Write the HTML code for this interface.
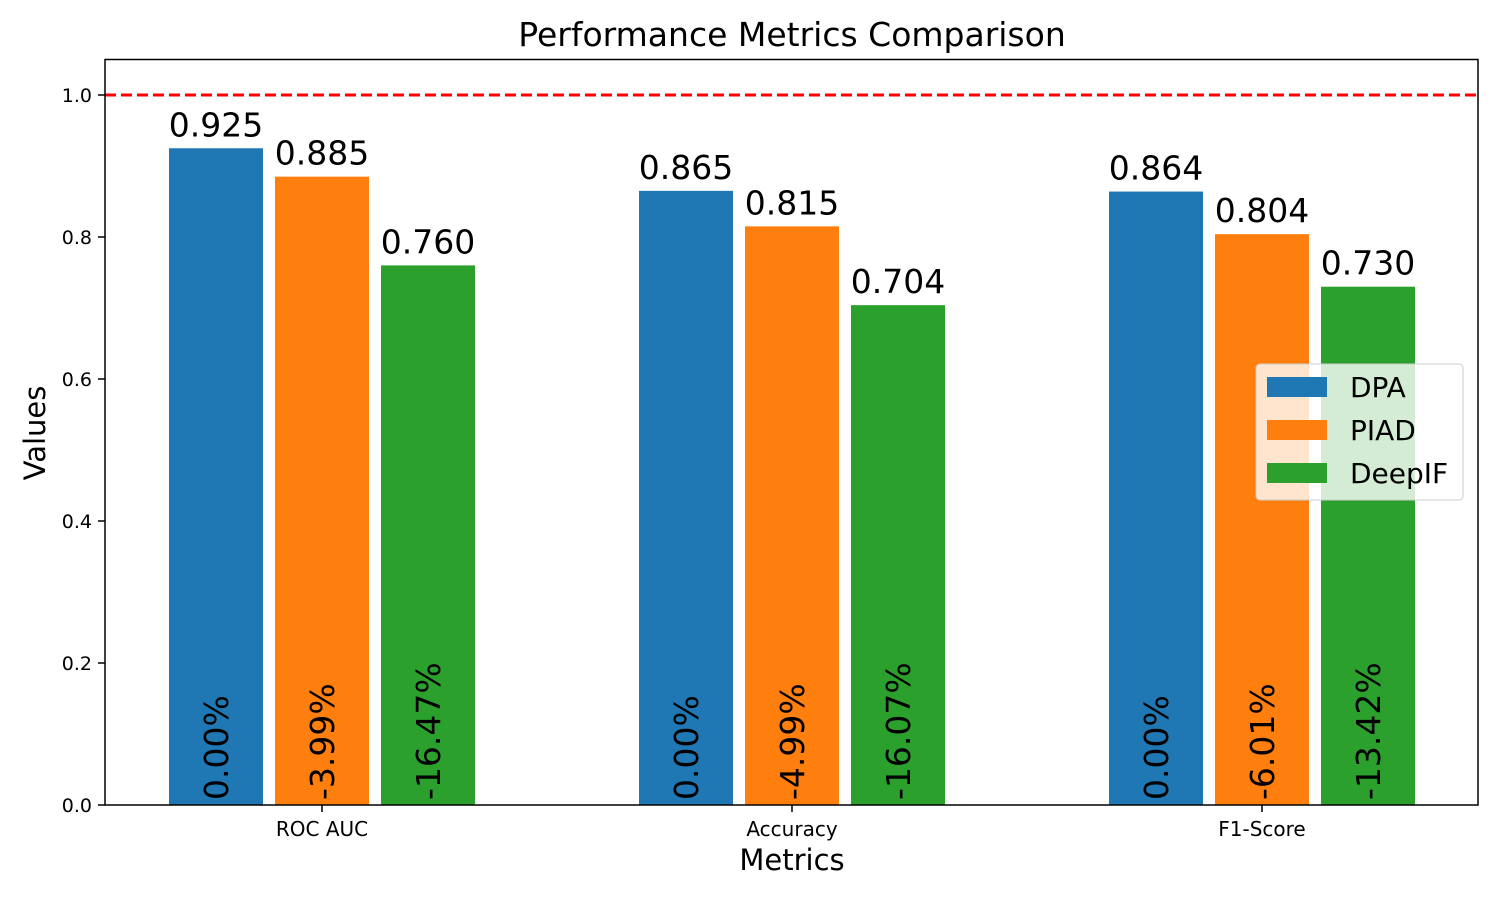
<!DOCTYPE html>
<html><head><meta charset="utf-8"><style>
body{margin:0;background:#fff;}
svg{display:block;font-family:"DejaVu Sans","Liberation Sans",sans-serif;}
</style></head><body>
<svg id="chart" width="1500" height="900">
<text x="792" y="46" font-size="33" text-anchor="middle">Performance Metrics Comparison</text>
<text x="792" y="870" font-size="29" text-anchor="middle">Metrics</text>
<text transform="translate(45,433) rotate(-90)" font-size="29" text-anchor="middle">Values</text>
<g id="plot"></g>
<rect x="105" y="59.5" width="1373" height="745.5" fill="none" stroke="#000" stroke-width="1.5"/>
<g>
<rect x="1256" y="364" width="207" height="136" rx="4" fill="#fff" fill-opacity="0.8" stroke="#ccc"/>
<rect x="1267" y="377" width="60" height="20" fill="#1f77b4"/>
<text x="1350" y="397" font-size="28">DPA</text>
<rect x="1267" y="420" width="60" height="20" fill="#ff7f0e"/>
<text x="1350" y="440" font-size="28">PIAD</text>
<rect x="1267" y="463" width="60" height="20" fill="#2ca02c"/>
<text x="1350" y="483" font-size="28">DeepIF</text>
</g>
</svg>
<script>
const categories=["ROC AUC","Accuracy","F1-Score"];
const seriesNames=["DPA","PIAD","DeepIF"];
const dpa=[0.925,0.865,0.864];
const piad=[0.885,0.815,0.804];
const deepif=[0.760,0.704,0.730];
const pctLabels=[["0.00%","-3.99%","-16.47%"],["0.00%","-4.99%","-16.07%"],["0.00%","-6.01%","-13.42%"]];
const yTicks=[0,0.2,0.4,0.6,0.8,1.0];
const refLine=1.0;
const colors=["#1f77b4","#ff7f0e","#2ca02c"];
const NS="http://www.w3.org/2000/svg";
const g=document.getElementById('plot');
const y=v=>805-v*710;
const xc=i=>322+i*470;
function mk(t,a,txt){const e=document.createElementNS(NS,t);for(const k in a)e.setAttribute(k,a[k]);if(txt!==undefined)e.textContent=txt;g.appendChild(e);return e;}
yTicks.forEach(t=>{
 const l=mk('line',{x1:98,x2:105,y1:y(t),y2:y(t),stroke:'#000','stroke-width':1.5});
 
 
 const tx=mk('text',{x:92,y:y(t)+7,'font-size':19,'text-anchor':'end'},t.toFixed(1));
 
 
});
categories.forEach((c,i)=>{
 const l=mk('line',{x1:xc(i),x2:xc(i),y1:805,y2:812,stroke:'#000','stroke-width':1.5});
 
 
 const tx=mk('text',{x:xc(i),y:836,'font-size':20,'text-anchor':'middle'},c);
 
 
});
const series=[dpa,piad,deepif];
series.forEach((s,j)=>{
 s.forEach((v,i)=>{
  const cx=xc(i)+(j-1)*106;
  const r=mk('rect',{x:cx-47,y:y(v),width:94,height:805-y(v),fill:colors[j]});
  
  
  const t=mk('text',{x:cx,y:y(v)-12,'font-size':33,'text-anchor':'middle'},v.toFixed(3));
  
  
  const p=mk('text',{transform:`translate(${cx+12},800) rotate(-90)`,'font-size':33},pctLabels[i][j]);
  
  
 });
});
const rl=mk('line',{x1:105,x2:1478,y1:y(refLine),y2:y(refLine),stroke:'#ff0000','stroke-width':3,'stroke-dasharray':'11,5'});


</script>
</body></html>
